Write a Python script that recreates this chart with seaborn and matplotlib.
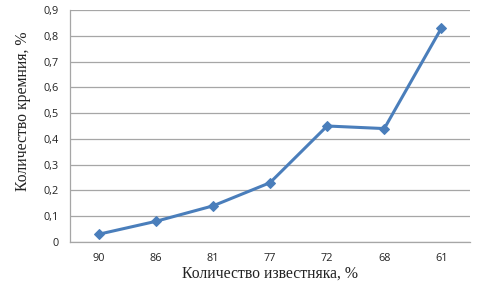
import matplotlib
matplotlib.use("Agg")
import matplotlib.pyplot as plt
import seaborn as sns
import pandas as pd
import numpy as np
from matplotlib.ticker import FixedLocator, FuncFormatter

categories = ["90", "86", "81", "77", "72", "68", "61"]
values = [0.03, 0.08, 0.14, 0.23, 0.45, 0.44, 0.83]

sns.set_theme(style="white")
plt.rcParams['font.family'] = ['Open Sans', 'DejaVu Sans']

df = pd.DataFrame({"pos": np.arange(len(categories)), "val": values})

fig = plt.figure(figsize=(4.88, 2.85), dpi=100)
ax = fig.add_axes([70/488, 1 - 242/285, 400/488, 232/285])

sns.lineplot(data=df, x="pos", y="val", ax=ax, color="#4A7EBB", linewidth=2.2,
             marker="D", markersize=5, markeredgecolor="#4A7EBB")

ax.set_xlim(-0.5, len(categories) - 0.5)
ax.set_ylim(0, 0.9)
ax.set_yticks(np.arange(0, 0.91, 0.1))
ax.yaxis.set_major_formatter(FuncFormatter(lambda v, p: "0" if abs(v) < 1e-9 else f"{v:.1f}".replace(".", ",")))
ax.set_xticks(np.arange(len(categories)))
ax.set_xticklabels(categories)
ax.xaxis.set_minor_locator(FixedLocator(np.arange(-0.5, len(categories), 1.0)))

ax.grid(axis="y", color="#A6A6A6", linewidth=0.9)
ax.set_axisbelow(True)
for s in ["top", "right"]:
    ax.spines[s].set_visible(False)
for s in ["left", "bottom"]:
    ax.spines[s].set_color("#A6A6A6")
    ax.spines[s].set_linewidth(0.9)

ax.tick_params(axis="x", which="major", length=0, pad=8, labelsize=7.8, colors="#222222")
ax.tick_params(axis="x", which="minor", length=4, width=0.9, color="#A6A6A6", direction="out")
ax.tick_params(axis="y", which="major", length=4, width=0.9, color="#A6A6A6", direction="out",
               labelsize=7.8, labelcolor="#222222", pad=4)
ax.tick_params(axis="x", labelcolor="#222222")

ax.set_xlabel("Количество известняка, %", family=["Liberation Serif", "DejaVu Serif"],
              fontsize=11.3, color="#222222", labelpad=1)
ax.set_ylabel("Количество кремния, %", family=["Liberation Serif", "DejaVu Serif"],
              fontsize=11.3, color="#222222")
ax.yaxis.set_label_coords(-0.0975, 0.565)

fig.savefig("out.png", dpi=100)
